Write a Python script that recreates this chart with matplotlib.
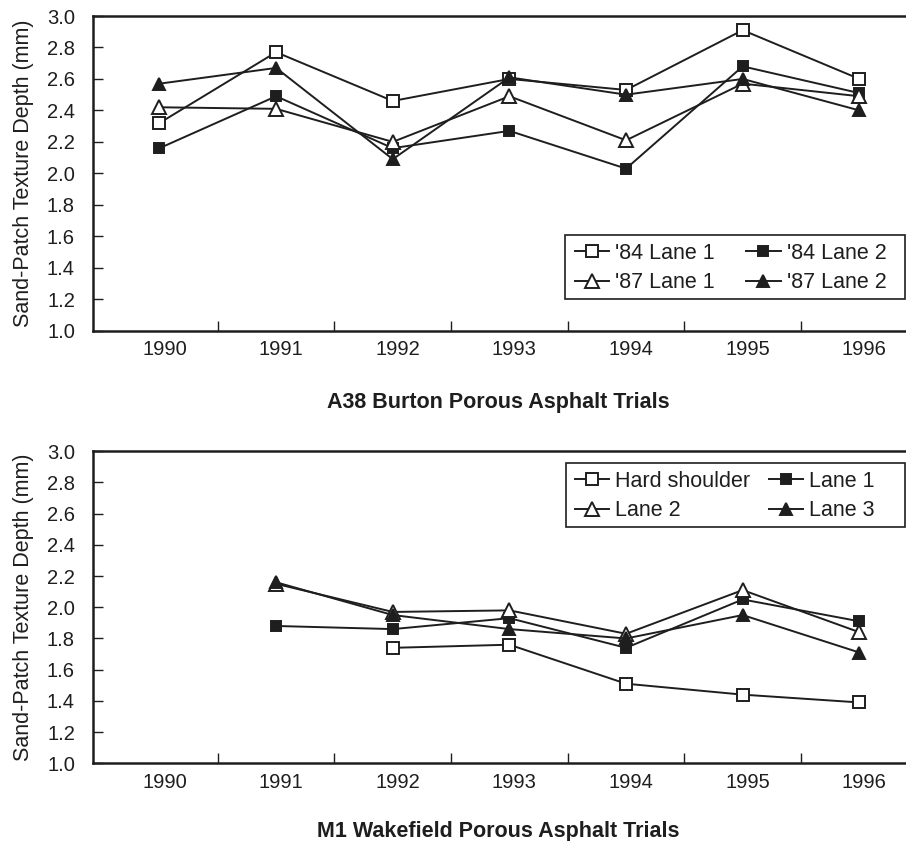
import numpy as np
import matplotlib
matplotlib.use('Agg')
import matplotlib.pyplot as plt
from matplotlib.patches import Rectangle
from matplotlib.transforms import ScaledTranslation
from matplotlib.ticker import FixedLocator, NullFormatter

plt.rcParams['font.family'] = ['Liberation Sans', 'DejaVu Sans']

years = ['1990', '1991', '1992', '1993', '1994', '1995', '1996']
y_ticks = [1.0, 1.2, 1.4, 1.6, 1.8, 2.0, 2.2, 2.4, 2.6, 2.8, 3.0]

# A38 Burton
a38_labels = ["'84 Lane 1", "'84 Lane 2", "'87 Lane 1", "'87 Lane 2"]
a38_84_lane1 = [2.32, 2.77, 2.46, 2.60, 2.53, 2.91, 2.60]
a38_84_lane2 = [2.16, 2.49, 2.16, 2.27, 2.03, 2.68, 2.51]
a38_87_lane1 = [2.42, 2.41, 2.20, 2.49, 2.21, 2.57, 2.49]
a38_87_lane2 = [2.57, 2.67, 2.09, 2.61, 2.50, 2.60, 2.40]

# M1 Wakefield
m1_labels = ["Hard shoulder", "Lane 1", "Lane 2", "Lane 3"]
m1_hard_shoulder = [np.nan, np.nan, 1.74, 1.76, 1.51, 1.44, 1.39]
m1_lane1 = [np.nan, 1.88, 1.86, 1.93, 1.74, 2.05, 1.91]
m1_lane2 = [np.nan, 2.15, 1.97, 1.98, 1.83, 2.11, 1.84]
m1_lane3 = [np.nan, 2.16, 1.95, 1.86, 1.80, 1.95, 1.71]

titles = ["A38 Burton Porous Asphalt Trials", "M1 Wakefield Porous Asphalt Trials"]
ylabel = "Sand-Patch Texture Depth (mm)"

W, H = 906, 841
fig = plt.figure(figsize=(W / 100, H / 100), dpi=100)

ink = '#1e1e1e'
TICK_FS = 14.5
TEXT_FS = 15.5
styles = [
    dict(marker='s', mfc='white', mec=ink, ms=8.5),
    dict(marker='s', mfc=ink, mec=ink, ms=7.5),
    dict(marker='^', mfc='white', mec=ink, ms=9.5),
    dict(marker='^', mfc=ink, mec=ink, ms=8.5),
]

AX1 = (93, 16, 906, 330.7)
AX2 = (93, 451.2, 906, 763.3)

def px_axes(box):
    left, top, right, bottom = box
    return fig.add_axes([left / W, 1 - bottom / H, (right - left) / W, (bottom - top) / H])

def to_ax(box, px, py):
    left, top, right, bottom = box
    return (px - left) / (right - left), (bottom - py) / (bottom - top)

ax1 = px_axes(AX1)
ax2 = px_axes(AX2)

x = np.arange(len(years))

def setup(ax):
    ax.set_xlim(-0.57, 6.40)
    ax.set_ylim(1.0, 3.0)
    ax.set_yticks(y_ticks)
    ax.set_yticklabels([f"{v:.1f}" for v in y_ticks])
    ax.set_xticks(x)
    ax.set_xticklabels(years)
    ax.xaxis.set_minor_locator(FixedLocator(np.arange(0.5, len(years) - 1, 1.0)))
    ax.xaxis.set_minor_formatter(NullFormatter())
    ax.tick_params(axis='x', which='major', length=0, pad=7, labelsize=TICK_FS, colors=ink)
    ax.tick_params(axis='x', which='minor', direction='in', length=7, width=1.0, color=ink)
    ax.tick_params(axis='y', which='major', direction='in', length=7, width=1.0, color=ink,
                   pad=13, labelsize=TICK_FS, labelcolor=ink)
    for side in ['left', 'top', 'bottom']:
        ax.spines[side].set_linewidth(1.8)
        ax.spines[side].set_color(ink)
    ax.spines['right'].set_visible(False)
    ax.set_ylabel(ylabel, fontsize=TEXT_FS, color=ink)
    ax.yaxis.set_label_coords(-0.072, 0.5)
    off = ScaledTranslation(5 / 100, 0, fig.dpi_scale_trans)
    for lab in ax.get_xticklabels():
        lab.set_transform(lab.get_transform() + off)

setup(ax1)
setup(ax2)

a38_series = [a38_84_lane1, a38_84_lane2, a38_87_lane1, a38_87_lane2]
h1 = []
for vals, lab, st in zip(a38_series, a38_labels, styles):
    ln, = ax1.plot(x, vals, color=ink, lw=1.4, mew=1.4, label=lab, **st)
    h1.append(ln)

m1_series = [m1_hard_shoulder, m1_lane1, m1_lane2, m1_lane3]
h2 = []
for vals, lab, st in zip(m1_series, m1_labels, styles):
    ln, = ax2.plot(x, vals, color=ink, lw=1.4, mew=1.4, label=lab, **st)
    h2.append(ln)

def legend(ax, axbox, handles, frame_px, start_px, colsp):
    fx0, fy0, fx1, fy1 = frame_px
    x0, y0 = to_ax(axbox, fx0, fy1)
    x1, y1 = to_ax(axbox, fx1, fy0)
    rect = Rectangle((x0, y0), x1 - x0, y1 - y0, transform=ax.transAxes,
                     facecolor='white', edgecolor=ink, linewidth=1.2,
                     zorder=4.5, clip_on=False)
    ax.add_patch(rect)
    order = [0, 2, 1, 3]
    ax_anchor = to_ax(axbox, start_px[0], start_px[1])
    leg = ax.legend([handles[i] for i in order], [handles[i].get_label() for i in order],
                    ncol=2, loc='center left', bbox_to_anchor=ax_anchor, fontsize=TEXT_FS,
                    frameon=False, handlelength=1.6, handletextpad=0.28,
                    columnspacing=colsp, labelspacing=0.4, borderpad=0,
                    borderaxespad=0)
    leg.set_zorder(5)
    for t in leg.get_texts():
        t.set_color(ink)
    return leg

legend(ax1, AX1, h1, (565, 235, 905, 299), (575, 268), 1.44)
legend(ax2, AX2, h2, (566, 463, 905, 527), (575, 496), 0.84)

fig.text(498 / W, 1 - 403 / H, titles[0], ha='center', va='center',
         fontsize=TEXT_FS, fontweight='bold', color=ink)
fig.text(498 / W, 1 - 831 / H, titles[1], ha='center', va='center',
         fontsize=TEXT_FS, fontweight='bold', color=ink)

fig.savefig('out.png', dpi=100)
